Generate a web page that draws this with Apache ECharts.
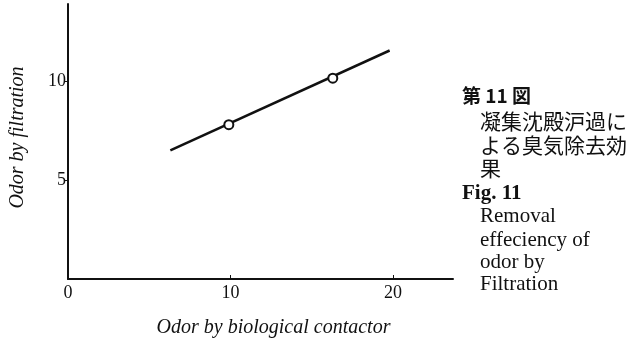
<!DOCTYPE html>
<html><head><meta charset="utf-8">
<script src="https://cdn.jsdelivr.net/npm/echarts@6/dist/echarts.min.js"></script>
<style>html,body{margin:0;padding:0;background:#fff}#c{width:633px;height:341px}</style>
</head><body><div id="c"></div>
<script>
var xTicks = [0, 10, 20];
var yTicks = [5, 10];
var fitLine = [[6.3, 6.5], [19.8, 11.55]];
var measured = [[9.9, 7.8], [16.3, 10.15]];
var xName = 'Odor by biological contactor';
var yName = 'Odor by filtration';
var captionJa = ['第 11 図', '凝集沈殿沪過に', 'よる臭気除去効', '果'];
var captionEn = ['Fig. 11', 'Removal', 'effeciency of', 'odor by', 'Filtration'];

var chart = echarts.init(document.getElementById('c'));
var serif = '"Liberation Serif","DejaVu Serif",serif';
var cjk = '"Noto Sans CJK JP",sans-serif';
var g = [];
var lineY = [98, 123, 147, 170, 195, 218, 242, 264, 286];
captionJa.forEach(function (t, i) {
  g.push({type:'text', left: i === 0 ? 462 : 480, top: lineY[i] - 12,
    style:{text:t, fill:'#111', font:(i===0?'bold 19px ':'21px ') + cjk}});
});
captionEn.forEach(function (t, i) {
  g.push({type:'text', left: i === 0 ? 462 : 480, top: lineY[i+4] - 12,
    style:{text:t, fill:'#111', font:(i===0?'bold ':'') + '21px ' + serif}});
});
chart.setOption({
  animation:false,
  backgroundColor:'#fff',
  grid:{left:68, right:180, top:4, bottom:62, containLabel:false, outerBoundsMode:'none'},
  xAxis:{type:'value', min:0, max:23.7, interval:10,
    name:xName, nameLocation:'middle', nameGap:39,
    nameTextStyle:{fontFamily:serif, fontStyle:'italic', fontSize:20, color:'#111', padding:[0,0,0,26]},
    axisLine:{lineStyle:{color:'#111', width:2}},
    axisTick:{inside:true, length:4, lineStyle:{color:'#111'}},
    axisLabel:{fontFamily:serif, fontSize:18, color:'#111', margin:5, showMaxLabel:false},
    splitLine:{show:false}},
  yAxis:{type:'value', min:0, max:13.9, interval:5,
    name:yName, nameLocation:'middle', nameGap:40,
    nameTextStyle:{fontFamily:serif, fontStyle:'italic', fontSize:20, color:'#111', padding:[0,0,0,8]},
    axisLine:{lineStyle:{color:'#111', width:2}},
    axisTick:{length:3, lineStyle:{color:'#111'}},
    axisLabel:{fontFamily:serif, fontSize:18, color:'#111', margin:2, showMinLabel:false, showMaxLabel:false},
    splitLine:{show:false}},
  series:[
    {type:'line', data:fitLine, symbol:'none', lineStyle:{color:'#111', width:2.5}, z:2},
    {type:'scatter', data:measured, symbol:'circle', symbolSize:9,
      itemStyle:{color:'#fff', borderColor:'#111', borderWidth:2, opacity:1}, z:3}
  ],
  graphic:g
});
</script></body></html>
